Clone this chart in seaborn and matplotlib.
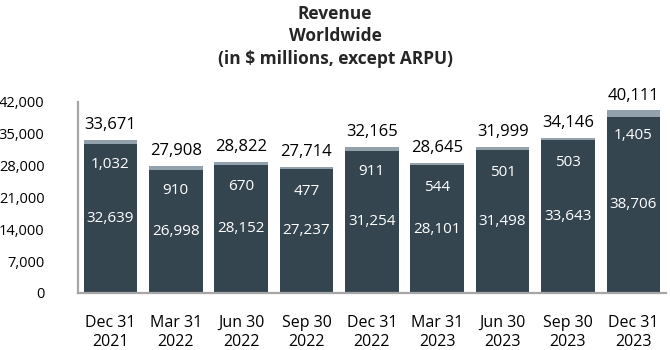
import pandas as pd
import matplotlib.pyplot as plt
import seaborn as sns

# quarterly revenue, worldwide ($ millions)
quarters = ["Dec 31\n2021", "Mar 31\n2022", "Jun 30\n2022", "Sep 30\n2022", "Dec 31\n2022",
            "Mar 31\n2023", "Jun 30\n2023", "Sep 30\n2023", "Dec 31\n2023"]
base_rev = [32639, 26998, 28152, 27237, 31254, 28101, 31498, 33643, 38706]
other_rev = [1032, 910, 670, 477, 911, 544, 501, 503, 1405]
totals = [33671, 27908, 28822, 27714, 32165, 28645, 31999, 34146, 40111]
y_ticks = [0, 7000, 14000, 21000, 28000, 35000, 42000]

DARK = "#344550"
LIGHT = "#93A1AD"
SPINE = "#A6A6A6"

sns.set_style("white")
plt.rcParams["font.family"] = ["Open Sans", "DejaVu Sans"]

df = pd.DataFrame({"quarter": quarters, "base": base_rev, "other": other_rev, "total": totals})

fig = plt.figure(figsize=(6.7, 3.5), dpi=100)
ax = fig.add_axes([0.116, 0.163, 0.878, 0.546])

# stacked look: full total in light colour, base drawn on top in dark
sns.barplot(data=df, x="quarter", y="total", color=LIGHT, width=0.82, saturation=1,
            linewidth=0, ax=ax)
sns.barplot(data=df, x="quarter", y="base", color=DARK, width=0.82, saturation=1,
            linewidth=0, ax=ax)

for i, row in df.iterrows():
    ax.annotate(f"{row['total']:,}", (i, row["total"]), xytext=(0, 5), textcoords="offset points",
                ha="center", va="bottom", fontsize=12, color="black")
    ax.annotate(f"{row['other']:,}", (i, row["total"]), xytext=(0, -18), textcoords="offset points",
                ha="center", va="center", fontsize=11, color="white")
    ax.text(i, row["base"] / 2, f"{row['base']:,}", ha="center", va="center",
            fontsize=11, color="white")

ax.set_xlim(-0.5, len(quarters) - 0.5)
ax.set_ylim(0, 42000)
ax.set_yticks(y_ticks)
ax.set_yticklabels([f"{v:,}" for v in y_ticks])
ax.set_xlabel("")
ax.set_ylabel("")
ax.tick_params(axis="y", length=0, pad=24, labelsize=10.5, labelcolor="black")
ax.tick_params(axis="x", length=0, pad=16, labelsize=11.5, labelcolor="black")

for side in ["top", "right"]:
    ax.spines[side].set_visible(False)
for side in ["left", "bottom"]:
    ax.spines[side].set_color(SPINE)
    ax.spines[side].set_linewidth(1.6)

fig.text(0.5, 0.985, "Revenue\nWorldwide\n(in $ millions, except ARPU)", ha="center", va="top",
         fontsize=12.5, fontweight="bold", linespacing=1.3)

fig.savefig("out.png", dpi=100)
